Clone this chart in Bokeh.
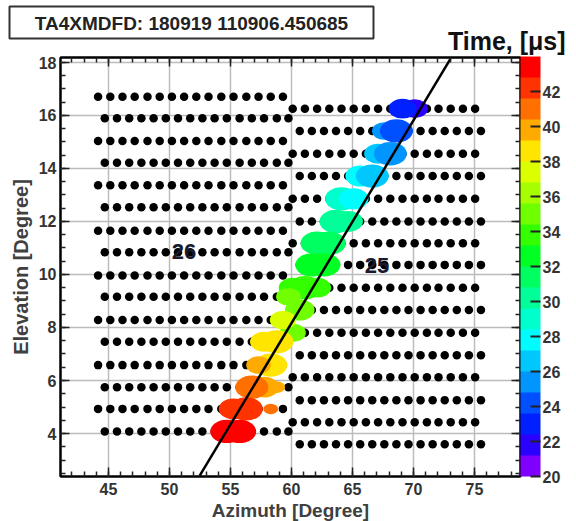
from bokeh.plotting import figure
from bokeh.models import (Range1d, LinearAxis, ColorBar, LinearColorMapper,
                          FixedTicker, ColumnDataSource, Grid)
from bokeh.embed import file_html
from bokeh.resources import INLINE
from bokeh.core.properties import value

# ---------------- data ----------------
title_text = "TA4XMDFD: 180919 110906.450685"
cbar_title = "Time,  [\u03bcs]"
x_label = "Azimuth [Degree]"
y_label = "Elevation [Degree]"

x_ticks = [45, 50, 55, 60, 65, 70, 75]
y_ticks = [4, 6, 8, 10, 12, 14, 16, 18]
cbar_ticks = [20, 22, 24, 26, 28, 30, 32, 34, 36, 38, 40, 42]
time_low, time_high = 20, 44

# mirror 26 (left camera): row elevations (bottom -> top) and column azimuths
m26_rows = [4.08, 4.93, 5.75, 6.58, 7.46, 8.28, 9.16, 9.96,
            10.84, 11.65, 12.53, 13.36, 14.21, 15.03, 15.89, 16.70]
m26_cols_even = [44.7, 45.7, 46.7, 47.7, 48.7, 49.7, 50.7, 51.7,
                 52.7, 53.7, 54.7, 55.75, 56.75, 57.75, 58.8, 59.75]
m26_cols_odd = [44.15, 45.15, 46.15, 47.15, 48.2, 49.2, 50.2, 51.2,
                52.2, 53.2, 54.25, 55.25, 56.3, 57.3, 58.3, 59.3]

# mirror 25 (right camera)
m25_rows = [3.60, 4.43, 5.26, 6.12, 6.95, 7.80, 8.66, 9.50,
            10.36, 11.18, 12.00, 12.85, 13.71, 14.55, 15.41, 16.25]
m25_cols_even = [60.68, 61.67, 62.66, 63.65, 64.64, 65.63, 66.62, 67.61,
                 68.6, 69.59, 70.58, 71.57, 72.56, 73.55, 74.54, 75.53]
m25_cols_odd = [60.1, 61.1, 62.1, 63.1, 64.1, 65.1, 66.1, 67.1,
                68.1, 69.1, 70.1, 71.1, 72.05, 73.05, 74.05, 75.05]

# hit tubes: azimuth, elevation, time [us], relative signal
hit_az = [70.1, 69.1, 67.61, 68.6, 67.1, 68.1, 65.63, 66.62, 64.1, 65.1,
          63.65, 64.64, 62.1, 63.1, 61.67, 62.66, 60.1, 61.1, 62.1, 60.68,
          60.1, 59.75, 59.3, 57.75, 58.8, 58.3, 57.3, 58.8, 57.75, 56.75,
          58.3, 55.25, 56.3, 54.7, 55.75]
hit_el = [16.25, 16.25, 15.41, 15.41, 14.55, 14.55, 13.71, 13.71, 12.85, 12.85,
          12.00, 12.00, 11.18, 11.18, 10.36, 10.36, 9.50, 9.50, 9.50, 8.66,
          7.80, 9.16, 8.28, 7.46, 7.46, 6.58, 6.58, 5.75, 5.75, 5.75,
          4.93, 4.93, 4.93, 4.08, 4.08]
hit_time = [22.0, 22.6, 25.0, 24.0, 26.2, 25.4, 27.8, 26.8, 29.0, 28.2,
            30.0, 30.4, 31.2, 31.6, 32.5, 32.8, 34.2, 33.6, 34.0, 34.8,
            35.5, 35.0, 37.0, 38.8, 38.5, 38.6, 40.3, 39.3, 39.8, 41.0,
            40.5, 42.2, 42.0, 43.5, 43.2]
hit_signal = [0.8, 0.85, 0.75, 1.0, 0.85, 1.0, 0.9, 1.0, 1.0, 0.9,
              1.0, 0.9, 1.0, 1.0, 1.0, 1.0, 0.85, 1.0, 0.85, 0.9,
              0.8, 0.75, 0.8, 0.85, 1.0, 1.0, 0.75, 0.5, 0.9, 1.0,
              0.45, 0.9, 1.0, 1.0, 1.0]

# fitted track (two points read on the frame edges)
track_az = [52.48, 73.03]
track_el = [2.41, 18.13]

# camera labels
cam_names = ["26", "25"]
cam_az = [51.2, 67.0]
cam_el = [10.86, 10.33]

# ---------------- style ----------------
palette = ["#7f00ff", "#2a00ff", "#0020ff", "#0050ff", "#0095ff",
           "#00c8ff", "#00fcff", "#00ffcc", "#00ff99", "#00ff60",
           "#00ff22", "#33ff00", "#70ff00", "#a6ff00", "#dcff00",
           "#ffe500", "#ffaa00", "#ff7000", "#ff3300", "#ff0000"]
mapper = LinearColorMapper(palette=palette, low=time_low, high=time_high)

FONT = "Liberation Sans"
PAGE_W = 576
HEAD_H = 56
FRAME_W, FRAME_H = 460, 419

# ---------------- header (title box + colour-bar title) ----------------
head = figure(width=PAGE_W, height=HEAD_H, x_range=Range1d(0, PAGE_W),
              y_range=Range1d(HEAD_H, 0), output_backend="svg",
              toolbar_location=None, min_border=0,
              min_border_left=0, min_border_right=0,
              min_border_top=0, min_border_bottom=0,
              x_axis_location=None, y_axis_location=None)
head.outline_line_color = None
head.grid.visible = False
head.background_fill_color = "white"
head.border_fill_color = "white"
head.quad(left=[9], right=[373], top=[6], bottom=[38], fill_color="white",
          line_color="#333333", line_width=2)
head.text([191], [22.5], text=[title_text], text_font=value(FONT),
          text_font_style="bold", text_font_size="19px", text_color="#222222",
          text_align="center", text_baseline="middle")
head.text([572], [40], text=[cbar_title], text_font=value(FONT),
          text_font_style="bold", text_font_size="25px", text_color="#111111",
          text_align="right", text_baseline="middle")

# ---------------- main plot ----------------
p = figure(frame_width=FRAME_W, frame_height=FRAME_H,
           x_range=Range1d(41.07, 78.77), y_range=Range1d(2.38, 18.18),
           output_backend="svg", toolbar_location=None,
           min_border_left=60, min_border_top=1, min_border_bottom=45,
           min_border_right=56, x_axis_location=None, y_axis_location=None)
p.background_fill_color = "white"
p.border_fill_color = "white"
p.outline_line_color = "black"
p.outline_line_width = 2

x_minor = [v for v in range(42, 79)]
y_minor = [2.5 + 0.5 * i for i in range(32)]


def style_axis(ax, labels=True):
    ax.axis_line_color = "black"
    ax.axis_line_width = 2
    ax.major_tick_in = 9
    ax.major_tick_out = 0
    ax.minor_tick_in = 5
    ax.minor_tick_out = 0
    ax.major_tick_line_color = "#222222"
    ax.major_tick_line_width = 1.5
    ax.minor_tick_line_color = "#222222"
    ax.minor_tick_line_width = 1.5
    ax.major_label_text_font = FONT
    if labels:
        ax.major_label_text_font_style = "bold"
        ax.major_label_text_font_size = "16px"
        ax.major_label_text_color = "#333333"
        ax.axis_label_text_font = FONT
        ax.axis_label_text_font_style = "bold"
        ax.axis_label_text_color = "#404040"
    else:
        ax.major_label_text_font_size = "1px"
        ax.major_label_text_color = None
        ax.major_label_standoff = 0


xb = LinearAxis(ticker=FixedTicker(ticks=x_ticks, minor_ticks=x_minor),
                axis_label=x_label)
style_axis(xb)
xb.axis_label_text_font_size = "19px"
xb.major_label_standoff = 6
xb.axis_label_standoff = 2
p.add_layout(xb, "below")

yl = LinearAxis(ticker=FixedTicker(ticks=y_ticks, minor_ticks=y_minor),
                axis_label=y_label)
style_axis(yl)
yl.axis_label_text_font_size = "20px"
yl.major_label_standoff = 4
yl.axis_label_standoff = 4
p.add_layout(yl, "left")

xt = LinearAxis(ticker=FixedTicker(ticks=x_ticks, minor_ticks=x_minor))
style_axis(xt, labels=False)
p.add_layout(xt, "above")

yr = LinearAxis(ticker=FixedTicker(ticks=y_ticks, minor_ticks=y_minor))
style_axis(yr, labels=False)
p.add_layout(yr, "right")

p.add_layout(Grid(dimension=0, ticker=FixedTicker(ticks=x_ticks),
                  grid_line_color="#bcbcbc", grid_line_width=1.5))
p.add_layout(Grid(dimension=1, ticker=FixedTicker(ticks=y_ticks),
                  grid_line_color="#bcbcbc", grid_line_width=1.5))

# PMT dots
dot_x, dot_y = [], []
for rows, ce, co in ((m26_rows, m26_cols_even, m26_cols_odd),
                     (m25_rows, m25_cols_even, m25_cols_odd)):
    for i, el in enumerate(rows):
        cols = ce if i % 2 == 0 else co
        for az in cols:
            dot_x.append(az)
            dot_y.append(el)
p.scatter(dot_x, dot_y, size=8.5, color="black", line_color=None)

# hits
src = ColumnDataSource(dict(az=hit_az, el=hit_el, t=hit_time,
                            w=[2.7 * s for s in hit_signal],
                            h=[0.88 * s for s in hit_signal]))
p.ellipse("az", "el", width="w", height="h", source=src,
          fill_color={"field": "t", "transform": mapper}, line_color=None)

# track
p.line(track_az, track_el, line_color="black", line_width=2.5)

# camera labels
p.text(cam_az, cam_el, text=cam_names, text_font=value(FONT),
       text_font_style="bold", text_font_size="22px", text_color="#1a1a2e",
       text_align="center", text_baseline="middle")

# colour bar
cb = ColorBar(color_mapper=mapper, ticker=FixedTicker(ticks=cbar_ticks),
              width=20, height=FRAME_H + 1, padding=0, margin=4,
              location=(0, 0),
              major_tick_in=10, major_tick_out=0, minor_tick_in=0,
              minor_tick_out=0,
              major_tick_line_color="#222222", major_tick_line_width=2,
              bar_line_color=None, border_line_color=None,
              background_fill_color=None, label_standoff=2,
              major_label_text_font=FONT,
              major_label_text_font_style="bold",
              major_label_text_font_size="16px",
              major_label_text_color="#333333")
p.add_layout(cb, "right")

open("out.html", "w").write(file_html([head, p], INLINE))
